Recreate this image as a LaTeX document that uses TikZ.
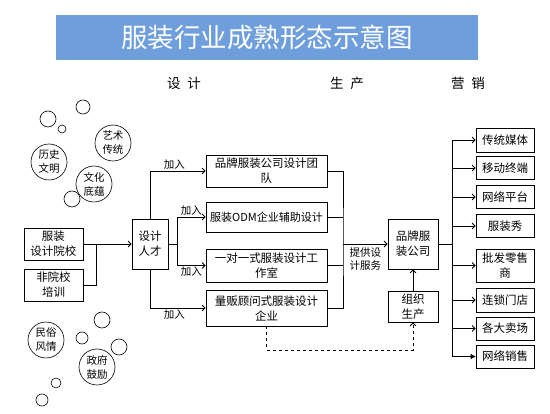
\documentclass[tikz,border=0pt]{standalone}
\usepackage{fontspec}
\setmainfont{Noto Sans CJK SC}
\usetikzlibrary{arrows.meta,positioning}
\definecolor{titleblue}{RGB}{111,158,220}

\begin{document}
\begin{tikzpicture}[
        x=1pt, y=-1pt,
        box/.style={
            rectangle,
            draw,
            line width=0.8pt,
            inner sep=1pt,
            align=center,
            font=\fontsize{11.5}{15}\selectfont
        },
        bubble/.style={
            circle,
            draw,
            line width=0.6pt,
            minimum size=36pt,
            inner sep=0pt,
            align=center,
            font=\fontsize{10.5}{14}\selectfont
        },
        flow/.style={line width=0.8pt, -{Straight Barb[length=3pt,width=6pt]}},
        link/.style={line width=0.8pt},
        join_label/.style={font=\fontsize{10.5}{13}\selectfont, inner sep=1pt, align=center},
        head/.style={font=\fontsize{13.5}{13.5}\selectfont}
    ]
        \useasboundingbox (0,0) rectangle (550,414);

        % --- TITLE BAR ---
        \node[fill=titleblue, minimum width=422pt, minimum height=45pt, text=white,
            font=\fontsize{26.5}{26.5}\selectfont] (title) at (267,37.5) {服装行业成熟形态示意图};

        % --- STAGE HEADINGS ---
        \node[head] (hDesign) at (184,83) {设\hspace{7pt}计};
        \node[head] (hMake) at (347,83) {生\hspace{7pt}产};
        \node[head] (hSell) at (468,83) {营\hspace{7pt}销};

        % --- BUBBLES ---
        \node[bubble] (arts) at (113,143) {艺术\\传统};
        \node[bubble] (history) at (49,162) {历史\\文明};
        \node[bubble] (culture) at (94,184) {文化\\底蕴};
        \node[bubble] (folk) at (46,340) {民俗\\风情};
        \node[bubble] (gov) at (97,367) {政府\\鼓励};
        \foreach \cx/\cy/\r in {83/107/7, 48/119/8, 62/129/4, 72/199/8, 102/320/8,
                                82/338/6, 119/347/8, 56/383/5, 42/400/6}
            \draw[line width=0.6pt] (\cx,\cy) circle (\r);

        % --- SOURCES OF TALENT ---
        \node[box, minimum width=59pt, minimum height=32pt] (school) at (53.5,244) {服装\\设计院校};
        \node[box, minimum width=59pt, minimum height=32pt] (training) at (53.5,285) {非院校\\培训};
        \node[box, minimum width=36pt, minimum height=50pt] (talent) at (150,244) {设计\\人才};

        % --- DESIGN ORGANISATIONS ---
        \node[box, minimum width=121pt, minimum height=32pt] (team) at (266.5,171) {品牌服装公司设计团\\队};
        \node[box, minimum width=121pt, minimum height=30pt, font=\fontsize{11}{15}\selectfont] (odm) at (266.5,217) {服装ODM企业辅助设计};
        \node[box, minimum width=121pt, minimum height=33pt] (studio) at (266.5,265.5) {一对一式服装设计工\\作室};
        \node[box, minimum width=121pt, minimum height=36pt] (retail) at (266.5,308) {量贩顾问式服装设计\\企业};

        % --- PRODUCTION ---
        \node[box, minimum width=50pt, minimum height=50pt] (brand) at (413,244) {品牌服\\装公司};
        \node[box, minimum width=50pt, minimum height=31pt] (produce) at (413,306.5) {组织\\生产};

        % --- MARKETING CHANNELS ---
        \foreach \name/\cy/\h/\txt in {m1/140/24/传统媒体, m2/168/23/移动终端, m3/197/23/网络平台,
                                       m4/226/23/服装秀, m5/265.5/33/{批发零售\\商}, m6/300/24/连锁门店,
                                       m7/328.5/23/各大卖场, m8/356.5/23/网络销售}
            \node[box, minimum width=58pt, minimum height=\h pt] (\name) at (505,\cy) {\txt};

        % --- JUNCTIONS ---
        \coordinate (jSchool) at (96,244);
        \coordinate (jTalent) at (177,244);
        \coordinate (jDesign) at (343,244);
        \coordinate (jDash) at (413,350);
        \coordinate (jSell) at (452,244);

        % --- TALENT ARROWS ---
        \draw[flow] (school) -- (talent);
        \draw[link] (training.east) -| (jSchool);

        \draw[flow] (talent.north) |- (team.west)
            node[pos=0.72, above, join_label] {加入};
        \draw[link] (talent.east) -- (jTalent);
        \draw[flow] (jTalent) |- (odm.west)
            node[pos=0.75, above, join_label] {加入};
        \draw[flow] (jTalent) |- (studio.west)
            node[pos=0.75, below, join_label] {加入};
        \draw[flow] (talent.south) |- (retail.west)
            node[pos=0.72, below, join_label] {加入};

        % --- DESIGN SERVICE TO BRAND ---
        \draw[link] (team.east) -| (jDesign) |- (retail.east);
        \draw[link] (odm.east) -- (odm.east -| jDesign);
        \draw[link] (studio.east) -- (studio.east -| jDesign);
        \draw[flow] (jDesign) -- (brand)
            node[midway, below=2pt, join_label] {提供设\\计服务};

        % --- PRODUCTION ---
        \draw[flow] (produce) -- (brand);
        \draw[flow, dashed] (retail.south) |- (jDash) -- (produce.south);

        % --- MARKETING ---
        \draw[link] (brand.east) -- (jSell);
        \draw[link] (jSell |- m1.west) -- (jSell |- m8.west);
        \foreach \name in {m1,m2,m3,m4,m5,m6,m7}
            \draw[flow] (jSell |- \name.west) -- (\name.west);
        \draw[line width=0.8pt, -{Triangle[length=5pt,width=5pt]}] (jSell |- m8.west) -- (m8.west);

    \end{tikzpicture}
\end{document}
